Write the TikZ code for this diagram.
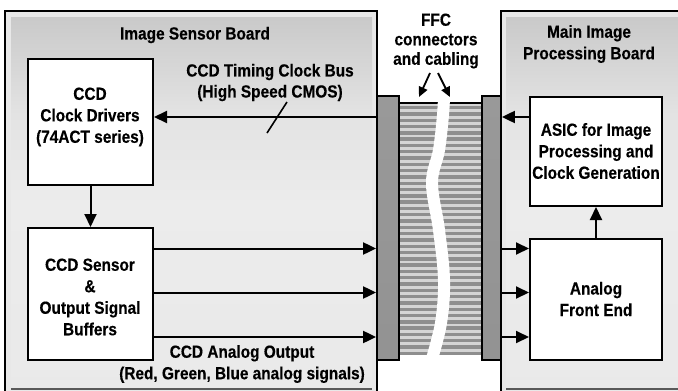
\documentclass[tikz,border=0pt]{standalone}
\usepackage{fontspec}
\setmainfont{Liberation Sans}[FakeStretch=0.88, BoldFeatures={FakeBold=0.4}]
\usetikzlibrary{arrows.meta}
\definecolor{sd}{HTML}{8E8E8E}
\definecolor{sl}{HTML}{D4D4D4}
\definecolor{edge}{HTML}{E8E8E8}
\pgfdeclareverticalshading{panelv}{100bp}{color(0bp)=(gray!17); color(25bp)=(gray!17); color(50bp)=(gray!15); color(62bp)=(gray!22); color(75bp)=(gray!42); color(100bp)=(gray!42)}
\begin{document}
\begin{tikzpicture}[x=1pt,y=-1pt,
  txt/.style={font=\fontsize{17.5}{21.5}\selectfont\bfseries, align=center, inner sep=0pt},
  box/.style={draw=black, line width=2pt, fill=white, inner sep=0pt},
  arr/.style={line width=2pt, -{Triangle[length=13pt,width=12pt]}},
  thinarr/.style={line width=1.8pt, -{Triangle[length=10pt,width=9pt]}},
  conn/.style={draw=black, line width=1.8pt, top color=gray!80, middle color=gray!22, bottom color=gray!85, inner sep=0pt},
  panel/.style={shading=panelv},
  frame/.style={line width=2pt, draw=black}
]
\useasboundingbox (0,0) rectangle (678,391);
\fill[white] (0,0) rectangle (678,391);

% left board
\fill[edge] (5,11) rectangle (377,391);
\shade[panel] (11,17) rectangle (372,389);
\draw[gray!70!black, line width=2pt] (11,389) -- (372,389);
\draw[frame] (5,392) -- (5,11) -- (377,11) -- (377,392);

% right board
\fill[edge] (500,11) rectangle (690,391);
\shade[panel] (506,17) rectangle (690,389);
\draw[gray!70!black, line width=2pt] (506,389) -- (690,389);
\draw[frame] (501,392) -- (501,11) -- (690,11);

% cable
\begin{scope}
  \clip (399,101) rectangle (482,355);
  \fill[sl] (399,104) rectangle (482,355);
  \foreach \i in {0,...,39} \fill[sd] (399,{105.9+\i*6.3}) rectangle (482,{109.3+\i*6.3});
  \draw[black, line width=2.5pt] (399,103) -- (482,103);
  \draw[white, line width=12pt] plot[smooth, tension=0.6] coordinates {(444,95) (443,115) (439,150) (432,183) (439,230) (444,280) (441,323) (431,362)};
\end{scope}

% connectors
\node[conn, minimum width=22pt, minimum height=264pt] (lc) at (388,228) {};
\node[conn, minimum width=19pt, minimum height=264pt] (rc) at (491.5,228) {};

% boxes
\node[box, minimum width=125pt, minimum height=126pt] (drv) at (90.5,122) {};
\node[box, minimum width=125pt, minimum height=132pt] (sen) at (90.5,294) {};
\node[box, minimum width=132pt, minimum height=109pt] (asic) at (596,151.5) {};
\node[box, minimum width=132pt, minimum height=121pt] (afe) at (596,299.5) {};

% level coordinates
\coordinate (yclk) at (0,117);
\coordinate (ya) at (0,248.5);
\coordinate (yb) at (0,292.5);
\coordinate (yc) at (0,337);

% arrows
\draw[arr] (lc.west |- yclk) -- (drv.east |- yclk);
\draw[arr] (asic.west |- yclk) -- (rc.east |- yclk);
\draw[arr] (drv.south) -- (sen.north);
\draw[arr] (afe.north) -- (asic.south);
\foreach \y in {ya,yb,yc} {
  \draw[arr] (sen.east |- \y) -- (lc.west |- \y);
  \draw[arr] (rc.east |- \y) -- (afe.west |- \y);
}

% bus slash
\coordinate (s1) at (287,102);
\coordinate (s2) at (267,133);
\draw[line width=1.6pt] (s1) -- (s2);

% FFC arrows
\coordinate (f1s) at (430,73);
\coordinate (f1e) at (419,97);
\coordinate (f2s) at (438,73);
\coordinate (f2e) at (450,97);
\draw[thinarr] (f1s) -- (f1e);
\draw[thinarr] (f2s) -- (f2e);

% texts
\node[txt] (t1) at (195,35) {Image Sensor Board};
\node[txt] (t2) at (589,44) {Main Image\\Processing Board};
\node[txt, font=\fontsize{17.5}{19.5}\selectfont\bfseries] (t3) at (436,41) {FFC\\connectors\\and cabling};
\node[txt, font=\fontsize{17.5}{21}\selectfont\bfseries] (t4) at (270,82.5) {CCD Timing Clock Bus\\(High Speed CMOS)};
\node[txt] (t5) at (242,364) {CCD Analog Output\\(Red, Green, Blue analog signals)};
\node[txt] (t6) at (90,117) {CCD\\Clock Drivers\\(74ACT series)};
\node[txt] (t7) at (90,297) {CCD Sensor\\\&\\Output Signal\\Buffers};
\node[txt] (t8) at (596,151) {ASIC for Image\\Processing and\\Clock Generation};
\node[txt] (t9) at (596,299) {Analog\\Front End};
\end{tikzpicture}
\end{document}
